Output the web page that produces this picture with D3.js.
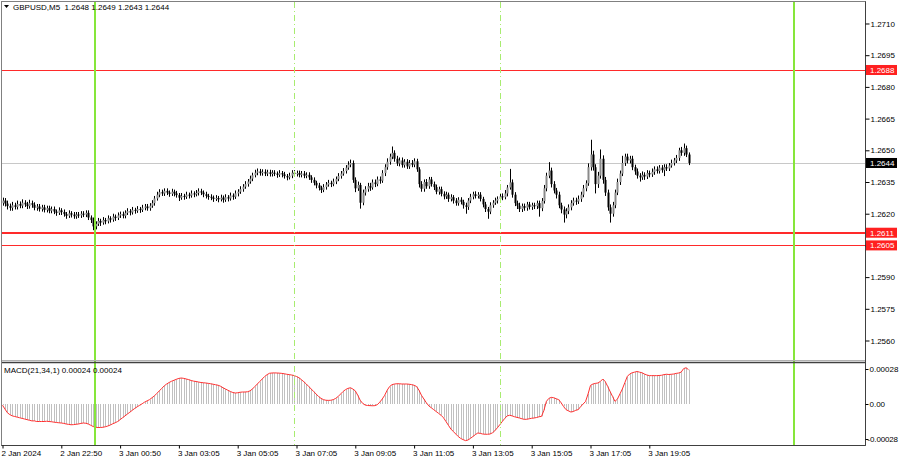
<!DOCTYPE html>
<html><head><meta charset="utf-8">
<script src="https://cdn.jsdelivr.net/npm/d3@7"></script>
<style>html,body{margin:0;padding:0;background:#fff;}svg{display:block;font-family:"Liberation Sans",Arial,sans-serif;}</style>
</head><body><svg id="c" width="900" height="460"></svg>
<script>
const chartTitle = "GBPUSD,M5  1.2648 1.2649 1.2643 1.2644";
const macdTitle = "MACD(21,34,1) 0.00024 0.00024";

const open = [1.26250,
1.26262,1.26248,1.26236,1.26228,1.26240,1.26232,1.26246,1.26238,1.26252,1.26244,
1.26236,1.26250,1.26242,1.26228,1.26234,1.26222,1.26230,1.26218,1.26226,1.26214,
1.26222,1.26210,1.26204,1.26216,1.26208,1.26198,1.26190,1.26202,1.26196,1.26188,
1.26196,1.26192,1.26200,1.26196,1.26204,1.26182,1.26170,1.26140,1.26152,1.26166,
1.26158,1.26170,1.26164,1.26178,1.26172,1.26186,1.26180,1.26192,1.26198,1.26190,
1.26204,1.26212,1.26206,1.26218,1.26214,1.26222,1.26218,1.26228,1.26234,1.26226,
1.26238,1.26250,1.26272,1.26290,1.26302,1.26296,1.26308,1.26300,1.26294,1.26304,
1.26296,1.26288,1.26276,1.26284,1.26280,1.26290,1.26286,1.26296,1.26292,1.26298,
1.26306,1.26300,1.26292,1.26284,1.26280,1.26276,1.26270,1.26274,1.26268,1.26276,
1.26266,1.26278,1.26272,1.26286,1.26280,1.26296,1.26304,1.26316,1.26328,1.26340,
1.26352,1.26366,1.26382,1.26394,1.26400,1.26392,1.26398,1.26390,1.26396,1.26388,
1.26394,1.26390,1.26384,1.26392,1.26386,1.26378,1.26372,1.26380,1.26394,1.26388,
1.26392,1.26384,1.26390,1.26380,1.26384,1.26372,1.26360,1.26346,1.26334,1.26322,
1.26312,1.26326,1.26338,1.26346,1.26340,1.26352,1.26364,1.26378,1.26390,1.26402,
1.26418,1.26432,1.26440,1.26360,1.26320,1.26336,1.26252,1.26300,1.26316,1.26330,
1.26324,1.26348,1.26340,1.26362,1.26356,1.26392,1.26420,1.26446,1.26470,1.26488,
1.26460,1.26438,1.26452,1.26430,1.26446,1.26424,1.26440,1.26432,1.26448,1.26410,
1.26340,1.26318,1.26350,1.26330,1.26362,1.26340,1.26326,1.26304,1.26316,1.26294,
1.26282,1.26290,1.26270,1.26278,1.26262,1.26250,1.26266,1.26256,1.26240,1.26232,
1.26262,1.26280,1.26292,1.26284,1.26290,1.26270,1.26244,1.26222,1.26210,1.26240,
1.26252,1.26262,1.26270,1.26282,1.26278,1.26296,1.26324,1.26348,1.26290,1.26250,
1.26238,1.26222,1.26236,1.26228,1.26244,1.26232,1.26240,1.26236,1.26250,1.26226,
1.26260,1.26320,1.26380,1.26404,1.26340,1.26310,1.26290,1.26240,1.26220,1.26196,
1.26212,1.26230,1.26250,1.26262,1.26258,1.26270,1.26290,1.26320,1.26344,1.26420,
1.26480,1.26420,1.26340,1.26380,1.26460,1.26360,1.26300,1.26230,1.26200,1.26240,
1.26300,1.26350,1.26390,1.26440,1.26470,1.26452,1.26460,1.26420,1.26400,1.26380,
1.26372,1.26384,1.26376,1.26392,1.26386,1.26398,1.26410,1.26402,1.26418,1.26406,
1.26420,1.26414,1.26428,1.26440,1.26452,1.26464,1.26500,1.26488,1.26510,1.26480];

const close = [
1.26262,1.26248,1.26236,1.26228,1.26240,1.26232,1.26246,1.26238,1.26252,1.26244,
1.26236,1.26250,1.26242,1.26228,1.26234,1.26222,1.26230,1.26218,1.26226,1.26214,
1.26222,1.26210,1.26204,1.26216,1.26208,1.26198,1.26190,1.26202,1.26196,1.26188,
1.26196,1.26192,1.26200,1.26196,1.26204,1.26182,1.26170,1.26140,1.26152,1.26166,
1.26158,1.26170,1.26164,1.26178,1.26172,1.26186,1.26180,1.26192,1.26198,1.26190,
1.26204,1.26212,1.26206,1.26218,1.26214,1.26222,1.26218,1.26228,1.26234,1.26226,
1.26238,1.26250,1.26272,1.26290,1.26302,1.26296,1.26308,1.26300,1.26294,1.26304,
1.26296,1.26288,1.26276,1.26284,1.26280,1.26290,1.26286,1.26296,1.26292,1.26298,
1.26306,1.26300,1.26292,1.26284,1.26280,1.26276,1.26270,1.26274,1.26268,1.26276,
1.26266,1.26278,1.26272,1.26286,1.26280,1.26296,1.26304,1.26316,1.26328,1.26340,
1.26352,1.26366,1.26382,1.26394,1.26400,1.26392,1.26398,1.26390,1.26396,1.26388,
1.26394,1.26390,1.26384,1.26392,1.26386,1.26378,1.26372,1.26380,1.26394,1.26388,
1.26392,1.26384,1.26390,1.26380,1.26384,1.26372,1.26360,1.26346,1.26334,1.26322,
1.26312,1.26326,1.26338,1.26346,1.26340,1.26352,1.26364,1.26378,1.26390,1.26402,
1.26418,1.26432,1.26440,1.26360,1.26320,1.26336,1.26252,1.26300,1.26316,1.26330,
1.26324,1.26348,1.26340,1.26362,1.26356,1.26392,1.26420,1.26446,1.26470,1.26488,
1.26460,1.26438,1.26452,1.26430,1.26446,1.26424,1.26440,1.26432,1.26448,1.26410,
1.26340,1.26318,1.26350,1.26330,1.26362,1.26340,1.26326,1.26304,1.26316,1.26294,
1.26282,1.26290,1.26270,1.26278,1.26262,1.26250,1.26266,1.26256,1.26240,1.26232,
1.26262,1.26280,1.26292,1.26284,1.26290,1.26270,1.26244,1.26222,1.26210,1.26240,
1.26252,1.26262,1.26270,1.26282,1.26278,1.26296,1.26324,1.26348,1.26290,1.26250,
1.26238,1.26222,1.26236,1.26228,1.26244,1.26232,1.26240,1.26236,1.26250,1.26226,
1.26260,1.26320,1.26380,1.26404,1.26340,1.26310,1.26290,1.26240,1.26220,1.26196,
1.26212,1.26230,1.26250,1.26262,1.26258,1.26270,1.26290,1.26320,1.26344,1.26420,
1.26480,1.26420,1.26340,1.26380,1.26460,1.26360,1.26300,1.26230,1.26200,1.26240,
1.26300,1.26350,1.26390,1.26440,1.26470,1.26452,1.26460,1.26420,1.26400,1.26380,
1.26372,1.26384,1.26376,1.26392,1.26386,1.26398,1.26410,1.26402,1.26418,1.26406,
1.26420,1.26414,1.26428,1.26440,1.26452,1.26464,1.26500,1.26488,1.26510,1.26480,1.26440];

const high = [
1.26276,1.26274,1.26262,1.26248,1.26256,1.26252,1.26262,1.26258,1.26268,1.26264,
1.26256,1.26266,1.26262,1.26254,1.26246,1.26246,1.26242,1.26242,1.26238,1.26238,
1.26234,1.26234,1.26220,1.26230,1.26226,1.26220,1.26208,1.26216,1.26212,1.26208,
1.26208,1.26208,1.26212,1.26212,1.26216,1.26216,1.26192,1.26182,1.26164,1.26180,
1.26176,1.26184,1.26180,1.26192,1.26188,1.26200,1.26196,1.26206,1.26210,1.26210,
1.26216,1.26226,1.26222,1.26232,1.26228,1.26236,1.26232,1.26242,1.26246,1.26246,
1.26250,1.26264,1.26284,1.26304,1.26316,1.26314,1.26320,1.26320,1.26310,1.26318,
1.26314,1.26308,1.26298,1.26298,1.26294,1.26304,1.26300,1.26310,1.26306,1.26312,
1.26320,1.26318,1.26310,1.26304,1.26294,1.26292,1.26286,1.26288,1.26284,1.26290,
1.26286,1.26292,1.26288,1.26300,1.26296,1.26310,1.26316,1.26330,1.26340,1.26354,
1.26364,1.26380,1.26394,1.26408,1.26414,1.26412,1.26410,1.26410,1.26408,1.26408,
1.26406,1.26406,1.26400,1.26406,1.26402,1.26398,1.26388,1.26394,1.26406,1.26406,
1.26404,1.26404,1.26402,1.26402,1.26396,1.26396,1.26382,1.26372,1.26356,1.26346,
1.26332,1.26340,1.26350,1.26360,1.26356,1.26366,1.26376,1.26392,1.26402,1.26416,
1.26430,1.26448,1.26456,1.26452,1.26372,1.26352,1.26346,1.26314,1.26330,1.26346,
1.26346,1.26362,1.26362,1.26376,1.26376,1.26406,1.26434,1.26462,1.26484,1.26518,
1.26500,1.26474,1.26466,1.26466,1.26458,1.26458,1.26454,1.26454,1.26462,1.26460,
1.26420,1.26354,1.26362,1.26364,1.26374,1.26374,1.26352,1.26338,1.26328,1.26328,
1.26306,1.26304,1.26300,1.26292,1.26288,1.26274,1.26278,1.26278,1.26266,1.26252,
1.26274,1.26294,1.26304,1.26306,1.26302,1.26302,1.26280,1.26256,1.26232,1.26254,
1.26264,1.26276,1.26282,1.26296,1.26296,1.26312,1.26336,1.26412,1.26362,1.26302,
1.26262,1.26252,1.26248,1.26248,1.26256,1.26256,1.26252,1.26252,1.26262,1.26262,
1.26274,1.26336,1.26394,1.26444,1.26418,1.26354,1.26322,1.26304,1.26252,1.26234,
1.26226,1.26244,1.26264,1.26276,1.26276,1.26286,1.26304,1.26336,1.26358,1.26438,
1.26550,1.26498,1.26434,1.26398,1.26504,1.26476,1.26374,1.26314,1.26244,1.26256,
1.26314,1.26366,1.26404,1.26474,1.26484,1.26484,1.26474,1.26474,1.26432,1.26414,
1.26392,1.26400,1.26396,1.26406,1.26404,1.26414,1.26424,1.26424,1.26430,1.26430,
1.26434,1.26434,1.26440,1.26456,1.26464,1.26478,1.26512,1.26516,1.26532,1.26522,1.26490];

const low = [
1.26238,1.26234,1.26220,1.26214,1.26214,1.26220,1.26220,1.26226,1.26226,1.26232,
1.26222,1.26224,1.26228,1.26216,1.26214,1.26210,1.26210,1.26206,1.26206,1.26202,
1.26202,1.26198,1.26190,1.26194,1.26194,1.26186,1.26176,1.26180,1.26182,1.26176,
1.26176,1.26180,1.26180,1.26184,1.26184,1.26170,1.26156,1.26122,1.26126,1.26142,
1.26142,1.26148,1.26150,1.26154,1.26158,1.26162,1.26166,1.26170,1.26180,1.26178,
1.26178,1.26194,1.26192,1.26196,1.26200,1.26204,1.26204,1.26208,1.26216,1.26214,
1.26214,1.26228,1.26238,1.26262,1.26278,1.26284,1.26284,1.26288,1.26280,1.26284,
1.26282,1.26276,1.26260,1.26266,1.26266,1.26270,1.26272,1.26276,1.26278,1.26282,
1.26286,1.26288,1.26278,1.26272,1.26266,1.26264,1.26256,1.26260,1.26254,1.26258,
1.26252,1.26256,1.26258,1.26262,1.26266,1.26270,1.26282,1.26294,1.26304,1.26318,
1.26328,1.26342,1.26354,1.26372,1.26382,1.26380,1.26380,1.26378,1.26378,1.26376,
1.26376,1.26378,1.26370,1.26374,1.26372,1.26366,1.26358,1.26362,1.26368,1.26376,
1.26376,1.26372,1.26372,1.26368,1.26368,1.26360,1.26346,1.26334,1.26320,1.26310,
1.26298,1.26302,1.26314,1.26328,1.26326,1.26330,1.26340,1.26354,1.26366,1.26380,
1.26390,1.26408,1.26420,1.26346,1.26302,1.26308,1.26224,1.26240,1.26286,1.26304,
1.26308,1.26314,1.26326,1.26330,1.26342,1.26346,1.26378,1.26408,1.26432,1.26458,
1.26446,1.26426,1.26424,1.26418,1.26418,1.26412,1.26412,1.26420,1.26420,1.26398,
1.26324,1.26304,1.26304,1.26318,1.26318,1.26328,1.26312,1.26292,1.26290,1.26282,
1.26268,1.26270,1.26256,1.26258,1.26248,1.26238,1.26238,1.26244,1.26224,1.26200,
1.26218,1.26250,1.26268,1.26272,1.26272,1.26258,1.26230,1.26208,1.26176,1.26198,
1.26228,1.26242,1.26248,1.26260,1.26264,1.26268,1.26282,1.26314,1.26276,1.26236,
1.26222,1.26208,1.26208,1.26214,1.26214,1.26220,1.26218,1.26222,1.26222,1.26186,
1.26212,1.26248,1.26306,1.26368,1.26324,1.26296,1.26272,1.26226,1.26202,1.26158,
1.26178,1.26198,1.26216,1.26238,1.26242,1.26246,1.26256,1.26278,1.26306,1.26332,
1.26404,1.26404,1.26296,1.26322,1.26366,1.26342,1.26284,1.26214,1.26158,1.26186,
1.26226,1.26288,1.26336,1.26378,1.26426,1.26438,1.26438,1.26406,1.26384,1.26366,
1.26352,1.26360,1.26360,1.26364,1.26372,1.26374,1.26384,1.26390,1.26390,1.26394,
1.26378,1.26402,1.26402,1.26418,1.26428,1.26440,1.26450,1.26474,1.26474,1.26468,1.26430];

const macd = [
-0.00001,-0.00004,-0.00007,-0.000085,-0.000095,-0.0001,-0.000105,-0.00011,-0.000115,-0.00012,
-0.000125,-0.00013,-0.000135,-0.000135,-0.00014,-0.00014,-0.00014,-0.00014,-0.000138,-0.00014,
-0.000142,-0.000145,-0.000148,-0.00015,-0.000152,-0.000155,-0.00016,-0.000163,-0.000166,-0.000165,
-0.000162,-0.00016,-0.000155,-0.000152,-0.000154,-0.00016,-0.00017,-0.00018,-0.000186,-0.000188,
-0.000188,-0.000186,-0.000182,-0.000176,-0.000168,-0.000158,-0.00015,-0.00014,-0.000125,-0.00011,
-0.000095,-0.00008,-0.000065,-0.00005,-0.000035,-0.000022,-0.00001,0.000002,0.000015,0.000025,
0.000035,0.00005,0.000065,0.000085,0.000105,0.000125,0.000145,0.00016,0.000172,0.000182,
0.00019,0.000198,0.000205,0.000208,0.000205,0.0002,0.000195,0.000188,0.000183,0.00018,
0.000176,0.000172,0.00017,0.000168,0.000165,0.000162,0.000158,0.000154,0.00015,0.000142,
0.00013,0.00012,0.00011,0.0001,0.000092,0.000088,0.00009,0.000094,0.000096,0.000096,
0.000098,0.000105,0.00012,0.00014,0.00016,0.00018,0.0002,0.00022,0.000235,0.000246,
0.000248,0.000249,0.000248,0.000247,0.000245,0.000242,0.000238,0.000235,0.000232,0.000228,
0.00022,0.00021,0.000195,0.000178,0.00016,0.00014,0.00012,0.0001,0.00008,0.00006,
0.000045,0.000035,0.00003,0.000029,0.00003,0.000035,0.000045,0.00006,0.00008,0.0001,
0.000115,0.000125,0.00013,0.00012,0.000105,0.00007,0.00003,0.000005,-0.000008,-0.000012,
-0.000013,-0.000014,-0.000013,-0.000005,0.000015,0.00004,0.00007,0.00011,0.00014,0.000155,
0.00016,0.000162,0.000162,0.00016,0.00016,0.00016,0.000158,0.000155,0.00015,0.00014,
0.00011,0.00007,0.00004,0.00001,-0.000015,-0.00003,-0.000045,-0.00006,-0.000075,-0.00009,
-0.00011,-0.00014,-0.00017,-0.0002,-0.00022,-0.00024,-0.00026,-0.000275,-0.000285,-0.000293,
-0.000288,-0.000275,-0.00026,-0.000245,-0.000232,-0.000235,-0.00024,-0.000242,-0.000242,-0.00024,
-0.00023,-0.000213,-0.00019,-0.000165,-0.00014,-0.000115,-0.000095,-0.00009,-0.000095,-0.000102,
-0.000107,-0.000112,-0.000118,-0.000123,-0.000122,-0.000118,-0.000114,-0.000112,-0.000108,-0.000102,
-0.000099,-0.00005,0.000021,0.000045,0.000053,0.00005,0.000042,0.000035,0.00001,-0.00002,
-0.000045,-0.000055,-0.000064,-0.00006,-0.00005,-0.000045,-0.00002,0,0.000021,0.00008,
0.000149,0.00016,0.000165,0.000168,0.00018,0.0002,0.00018,0.000141,0.0001,0.00006,
0.000021,0.00004,0.00008,0.00012,0.00017,0.00022,0.00024,0.00025,0.000255,0.00026,
0.000255,0.00025,0.00024,0.000232,0.000227,0.000227,0.000227,0.000227,0.000228,0.00023,
0.000235,0.000238,0.000236,0.000238,0.00024,0.000245,0.000248,0.000255,0.000283,0.00029,0.000275];

const xTickIndex = [0,24,48,72,96,120,144,168,192,216,240,264];
const xTickLabels = ["2 Jan 2024","2 Jan 22:50","3 Jan 00:50","3 Jan 03:05","3 Jan 05:05","3 Jan 07:05","3 Jan 09:05","3 Jan 11:05","3 Jan 13:05","3 Jan 15:05","3 Jan 17:05","3 Jan 19:05"];
const priceTicks = [1.2710,1.2695,1.2680,1.2665,1.2650,1.2635,1.2620,1.2605,1.2590,1.2575,1.2560];
const macdTicks = [0.00028,0,-0.00028];
const macdTickLabels = ["0.00028","0.00","-0.00028"];
const levelPrices = [1.2688,1.2611,1.2605];
const levelWidths = [1,2,1];
const bidPrice = 1.2644;
const sessionIndex = [37.76,119,203.1,323.1];
const sessionSolid = [true,false,false,true];

// ---------- layout ----------
const W=900,H=460, L=2, R=865, mT=2, mB=360, dT=363, dB=445;
const FONT = 8;
const svg = d3.select("#c");
svg.append("rect").attr("width",W).attr("height",H).attr("fill","#fff");

const x = d3.scaleLinear().domain([0,280]).range([2.5,688.5]);
const y = d3.scaleLinear().domain([1.255078,1.272017]).range([mB,mT]);
const ym = d3.scaleLinear().domain([-0.000328,0.000328]).range([dB,dT]);

const defs = svg.append("defs");
defs.append("clipPath").attr("id","cm").append("rect").attr("x",L).attr("y",mT).attr("width",R-L).attr("height",mB-mT);
defs.append("clipPath").attr("id","cd").append("rect").attr("x",L).attr("y",dT).attr("width",R-L).attr("height",dB-dT);

const gMain = svg.append("g").attr("clip-path","url(#cm)");
const gMacd = svg.append("g").attr("clip-path","url(#cd)");

// bid line
gMain.append("line").attr("x1",L).attr("x2",R).attr("y1",Math.round(y(bidPrice))+0.5).attr("y2",Math.round(y(bidPrice))+0.5)
  .attr("stroke","#c8c8c8").attr("stroke-width",1);

// candles
const idx = d3.range(close.length);
const px = i => Math.round(x(i))+0.5;
gMain.append("g").selectAll("line").data(idx).join("line")
  .attr("x1",px).attr("x2",px).attr("y1",i=>y(high[i])).attr("y2",i=>y(low[i]))
  .attr("stroke","#000").attr("stroke-width",1);
gMain.append("g").selectAll("rect").data(idx).join("rect")
  .attr("x",i=>px(i)-1).attr("width",2)
  .attr("y",i=>y(Math.max(open[i],close[i])))
  .attr("height",i=>Math.max(1,Math.abs(y(open[i])-y(close[i]))))
  .attr("fill",i=>close[i]>=open[i]?"#8a8a8a":"#000");

// levels
levelPrices.forEach((p,k)=>{
  const yy = Math.round(y(p)) + (levelWidths[k]===1?0.5:0);
  gMain.append("line").attr("x1",L).attr("x2",R).attr("y1",yy).attr("y2",yy)
    .attr("stroke","#ff2a2a").attr("stroke-width",levelWidths[k]);
});

// MACD histogram + line
gMacd.append("g").selectAll("line").data(idx).join("line")
  .attr("x1",px).attr("x2",px).attr("y1",ym(0)).attr("y2",i=>ym(macd[i]))
  .attr("stroke","#c0c0c0").attr("stroke-width",1);
gMacd.append("path").datum(idx)
  .attr("d",d3.line().x(i=>x(i)).y(i=>ym(macd[i])))
  .attr("fill","none").attr("stroke","#ff3030").attr("stroke-width",1);

// session vertical lines
sessionIndex.forEach((s,k)=>{
  const xx = Math.round(x(s)) + (sessionSolid[k]?0:0.5);
  svg.append("line").attr("x1",xx).attr("x2",xx).attr("y1",mT).attr("y2",dB)
    .attr("stroke",sessionSolid[k]?"#86e63a":"#a8ec70")
    .attr("stroke-width",sessionSolid[k]?2:1)
    .attr("stroke-dasharray",sessionSolid[k]?null:"6,3,1,3");
});

// frames
svg.append("rect").attr("x",L-0.5).attr("y",mT-0.5).attr("width",R-L+1).attr("height",dB-mT+1)
  .attr("fill","none").attr("stroke","#808080");
svg.append("line").attr("x1",L).attr("x2",R).attr("y1",mB+0.5).attr("y2",mB+0.5).attr("stroke","#b0b0b0");
svg.append("line").attr("x1",L).attr("x2",R).attr("y1",dT-0.5).attr("y2",dT-0.5).attr("stroke","#404040").attr("stroke-width",1.5);
svg.append("line").attr("x1",R+0.5).attr("x2",R+0.5).attr("y1",mT-0.5).attr("y2",dB+0.5).attr("stroke","#404040");
svg.append("line").attr("x1",L-0.5).attr("x2",R+0.5).attr("y1",dB+0.5).attr("y2",dB+0.5).attr("stroke","#404040");

// axes
function styleAxis(g){
  g.select(".domain").remove();
  g.selectAll("text").attr("font-size",FONT).attr("font-family","Liberation Sans, Arial, sans-serif").attr("fill","#000");
  g.selectAll("line").attr("stroke","#000");
}
svg.append("g").attr("transform",`translate(${R+0.5},0)`)
  .call(d3.axisRight(y).tickValues(priceTicks).tickSize(4).tickPadding(1).tickFormat(d3.format(".4f")))
  .call(styleAxis);
const ma = svg.append("g").attr("transform",`translate(${R+0.5},0)`)
  .call(d3.axisRight(ym).tickValues(macdTicks).tickSize(3).tickPadding(1).tickFormat((d,i)=>macdTickLabels[i]))
  .call(styleAxis);
ma.selectAll("text").filter(d=>d<0).attr("dx",-2).attr("letter-spacing",-0.15);
const xa = svg.append("g").attr("transform",`translate(0,${dB+0.5})`)
  .call(d3.axisBottom(x).tickValues(xTickIndex).tickSize(3).tickPadding(2).tickFormat((d,i)=>xTickLabels[i]))
  .call(styleAxis);
xa.selectAll("text").attr("text-anchor","start").attr("dx",-1.5);

// price labels on axis
function priceBox(p, fill){
  const yy = y(p);
  svg.append("rect").attr("x",R+1).attr("y",yy-5).attr("width",31).attr("height",10).attr("fill",fill);
  svg.append("text").attr("x",R+5).attr("y",yy).attr("dy","0.35em").attr("font-size",FONT).attr("fill","#fff").text(d3.format(".4f")(p));
}
levelPrices.forEach(p=>priceBox(p,"#ff2020"));
priceBox(bidPrice,"#000");

// titles
svg.append("path").attr("d","M4,5 L9,5 L6.5,8 Z").attr("fill","#000");
svg.append("text").attr("x",13).attr("y",9.5).attr("font-size",FONT).attr("fill","#000").attr("xml:space","preserve").text(chartTitle);
svg.append("text").attr("x",4).attr("y",373).attr("font-size",FONT).attr("fill","#000").text(macdTitle);
</script></body></html>
